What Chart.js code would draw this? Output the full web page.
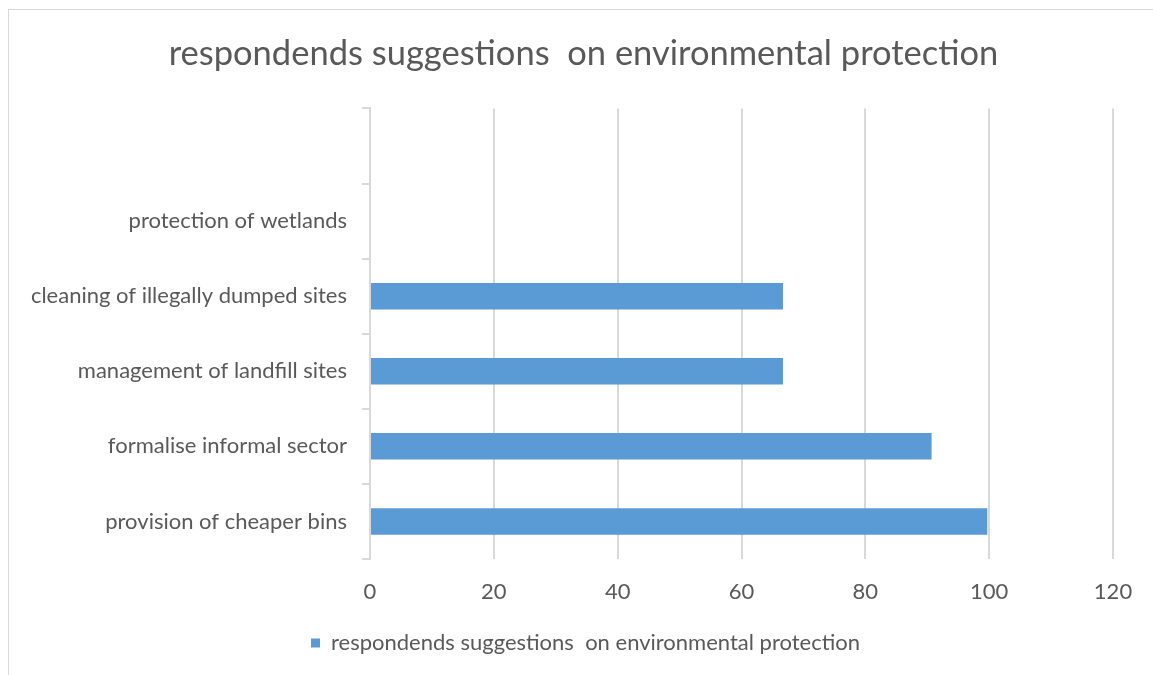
<!DOCTYPE html>
<html>
<head>
<meta charset="utf-8">
<script src="https://cdn.jsdelivr.net/npm/chart.js@4"></script>
<style>
  html, body { margin: 0; padding: 0; background: #fff; }
  #wrap { position: relative; width: 1153px; height: 675px; overflow: hidden; }
  #frame { position: absolute; left: 8px; top: 9px; width: 1200px; height: 700px;
           border-left: 1.5px solid #d9d9d9; border-top: 1.5px solid #d9d9d9; }
  #myChart { position: absolute; left: 0; top: 0; }
</style>
</head>
<body>
<div id="wrap">
  <div id="frame"></div>
  <canvas id="myChart" width="1153" height="675"></canvas>
</div>
<script>
const categories = ['', 'protection of wetlands', 'cleaning of illegally dumped sites',
  'management of landfill sites', 'formalise informal sector', 'provision of cheaper bins'];
const values = [null, 0, 66.7, 66.7, 90.7, 99.7];
const xTicks = [0, 20, 40, 60, 80, 100, 120];
const seriesName = 'respondends suggestions  on environmental protection';

const textColor = '#595959';
const gridColor = '#d9d9d9';
const fontName = 'Lato, "Open Sans", sans-serif';

const myChart = document.getElementById('myChart');

// title and legend sit centred on the whole frame, not on the plot
const shiftBlocks = {
  id: 'shiftBlocks',
  afterLayout(chart) {
    if (chart.titleBlock) { chart.titleBlock.left += 27; chart.titleBlock.right += 27; }
    if (chart.legend) { chart.legend.left += 29; chart.legend.right += 29; }
  }
};

new Chart(myChart, {
  type: 'bar',
  data: {
    labels: categories,
    datasets: [{
      label: seriesName,
      data: values,
      backgroundColor: '#5b9bd5',
      borderWidth: 0,
      categoryPercentage: 1,
      barPercentage: 0.353
    }]
  },
  options: {
    indexAxis: 'y',
    responsive: false,
    animation: false,
    layout: {
      padding: { left: 0, right: 40, top: 0, bottom: 11 }
    },
    scales: {
      x: {
        min: xTicks[0],
        max: xTicks[xTicks.length - 1],
        afterBuildTicks: (axis) => { axis.ticks = xTicks.map(v => ({ value: v })); },
        afterFit: (axis) => { axis.height = 63; },
        border: { display: false },
        grid: { color: gridColor, lineWidth: 2, drawTicks: false },
        ticks: { color: textColor, font: { family: fontName, size: 22 }, padding: 20 }
      },
      y: {
        afterFit: (axis) => { axis.width = 370; },
        border: { display: true, color: gridColor, width: 2 },
        grid: { drawOnChartArea: false, drawTicks: true, tickLength: 8, color: gridColor, lineWidth: 2 },
        ticks: { color: textColor, font: { family: fontName, size: 22 }, padding: 15 }
      }
    },
    plugins: {
      title: {
        display: true,
        text: 'respondends suggestions  on environmental protection',
        color: textColor,
        font: { family: fontName, size: 34.5, weight: 'normal', lineHeight: 1.2 },
        padding: { top: 33, bottom: 34 }
      },
      legend: {
        position: 'bottom',
        labels: {
          color: textColor,
          font: { family: fontName, size: 22 },
          boxWidth: 9,
          boxHeight: 9,
          padding: 10
        }
      },
      tooltip: { enabled: false }
    }
  },
  plugins: [shiftBlocks]
});
</script>
</body>
</html>
